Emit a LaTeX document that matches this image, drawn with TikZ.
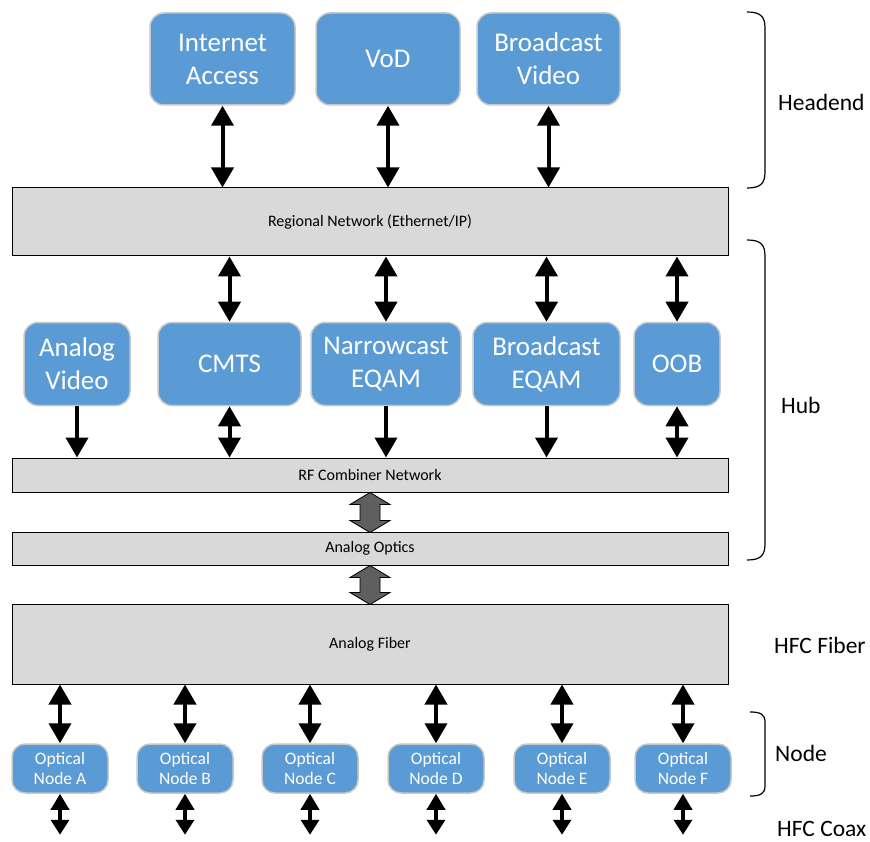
\documentclass[tikz,border=0pt]{standalone}
\usepackage{fontspec}
\setmainfont{Carlito}
\usetikzlibrary{arrows.meta,positioning}

\definecolor{boxblue}{HTML}{5B9BD5}
\definecolor{boxedge}{HTML}{C8C8C8}
\definecolor{barfill}{HTML}{D9D9D9}
\definecolor{blockgray}{HTML}{5F5F5F}

\tikzset{
    svc/.style={draw=boxedge, line width=1.5pt, fill=boxblue, rounded corners=14pt,
        text=white, align=center, inner sep=0pt, font=\fontsize{27}{33}\selectfont},
    onode/.style={svc, minimum width=96pt, minimum height=49pt, rounded corners=13pt,
        font=\fontsize{17.5}{20.5}\selectfont},
    bar/.style={draw=black, line width=1pt, fill=barfill, minimum width=716pt,
        inner sep=0pt, font=\fontsize{16}{18}\selectfont},
    link/.style={line width=4pt, {Triangle[width=22pt,length=20pt]}-{Triangle[width=22pt,length=20pt]}},
    stub/.style={line width=3.5pt, {Triangle[width=18pt,length=16pt]}-{Triangle[width=18pt,length=15pt]}},
    feed/.style={line width=4pt, -{Triangle[width=22pt,length=20pt]}},
    block/.style={draw=black, line width=0.8pt, fill=blockgray},
    lbl/.style={anchor=west, inner sep=0pt, font=\fontsize{23.5}{27}\selectfont},
    brace/.style={line width=1.2pt}
}

\begin{document}
\begin{tikzpicture}[x=1pt, y=-1pt]
    \useasboundingbox (0,0) rectangle (870,842);

    % headend services
    \node[svc, minimum width=145pt, minimum height=92pt] (inet) at (222.5,59) {Internet\\Access};
    \node[svc, minimum width=144pt, minimum height=92pt] (vod) at (388,59) {VoD};
    \node[svc, minimum width=143pt, minimum height=92pt] (bvid) at (548.5,59) {Broadcast\\Video};

    % bars
    \node[bar, minimum height=68pt] (reg) at (370,222) {Regional Network (Ethernet/IP)};
    \node[bar, minimum height=34pt] (rf) at (370,475) {RF Combiner Network};
    \node[bar, minimum height=33pt] (optics) at (370,548.5) {Analog Optics};
    \node[bar, minimum height=80pt] (fiber) at (370,644) {Analog Fiber};

    % hub equipment
    \node[svc, minimum width=106pt, minimum height=83pt] (avid) at (77,364) {Analog\\Video};
    \node[svc, minimum width=143pt, minimum height=83pt] (cmts) at (229.5,364) {CMTS};
    \node[svc, minimum width=150pt, minimum height=83pt] (nceq) at (386,364) {Narrowcast\\EQAM};
    \node[svc, minimum width=147pt, minimum height=83pt] (bceq) at (546.5,364) {Broadcast\\EQAM};
    \node[svc, minimum width=86pt, minimum height=83pt] (oob) at (677,364) {OOB};

    % headend links
    \foreach \s in {inet, vod, bvid}
        \draw[link] (\s.south) -- (\s.south |- reg.north);

    % regional network to hub
    \foreach \s in {cmts, nceq, bceq, oob}
        \draw[link] (\s.north |- reg.south) -- (\s.north);

    % hub to combiner
    \foreach \s in {avid, nceq, bceq}
        \draw[feed] (\s.south) -- (\s.south |- rf.north);
    \foreach \s in {cmts, oob}
        \draw[link] (\s.south) -- (\s.south |- rf.north);

    % block arrows
    \draw[block] (rf.south) -- ++(20,12) -- ++(-10,0) -- ++(0,16) -- ++(10,0) -- ++(-20,12)
        -- ++(-20,-12) -- ++(10,0) -- ++(0,-16) -- ++(-10,0) -- cycle;
    \draw[block] (optics.south) -- ++(20,12) -- ++(-10,0) -- ++(0,15) -- ++(10,0) -- ++(-20,12)
        -- ++(-20,-12) -- ++(10,0) -- ++(0,-15) -- ++(-10,0) -- cycle;

    % optical nodes
    \foreach \n/\x in {A/60, B/185, C/310, D/436, E/562, F/683} {
        \node[onode] (o\n) at (\x,768.5) {Optical\\Node \n};
        \draw[link] (o\n.north |- fiber.south) -- (o\n.north);
        \draw[stub] (o\n.south) -- ++(0,41);
    }

    % braces and labels
    \draw[brace] (747,12) .. controls (760,12) and (765,16) .. (765,28) -- (765,172)
        .. controls (765,184) and (760,188) .. (747,188);
    \draw[brace] (747,240) .. controls (760,240) and (765,244) .. (765,256) -- (765,544)
        .. controls (765,556) and (760,560) .. (747,560);
    \draw[brace] (750,712) .. controls (760,712) and (765,714) .. (765,722) -- (765,786)
        .. controls (765,794) and (760,796) .. (750,796);

    \node[lbl] (headend) at (778,102) {Headend};
    \node[lbl] (hub) at (781,405) {Hub};
    \node[lbl] (hfcfiber) at (774,645) {HFC Fiber};
    \node[lbl] (nodelbl) at (775,753) {Node};
    \node[lbl] (hfccoax) at (777,829) {HFC Coax};
\end{tikzpicture}
\end{document}
